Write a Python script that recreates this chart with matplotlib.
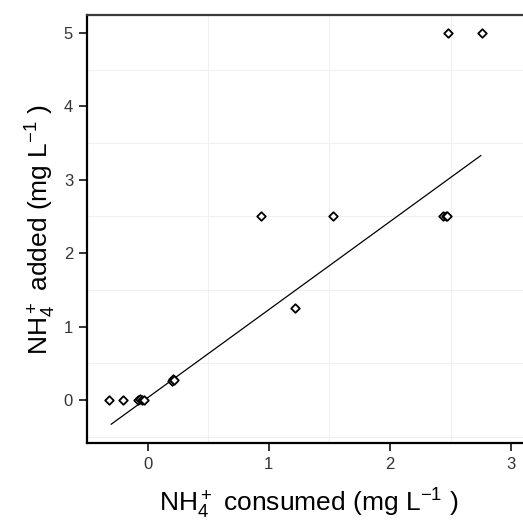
import matplotlib
matplotlib.use("Agg")
import matplotlib.pyplot as plt
import numpy as np

plt.rcParams['font.family'] = ['Liberation Sans', 'DejaVu Sans']
plt.rcParams['mathtext.default'] = 'regular'

# NH4+ consumed vs added (mg/L); repeated entries sit on top of each other
consumed = [-0.32, -0.20, -0.08, -0.06, -0.05, -0.03, 0.20, 0.21, 0.22,
            0.94, 1.22, 1.53, 2.44, 2.46, 2.47, 2.48, 2.76]
added = [0.0, 0.0, 0.0, 0.01, 0.0, 0.0, 0.26, 0.29, 0.27,
         2.5, 1.25, 2.5, 2.5, 2.51, 2.5, 5.0, 5.0]

# linear fit drawn across the data range
fit_intercept = 0.03
fit_slope = 1.20
fit_x = [-0.30, 2.75]

x_ticks = [0, 1, 2, 3]
y_ticks = [0, 1, 2, 3, 4, 5]

fig = plt.figure(figsize=(5.23, 5.23), dpi=100)
ax = fig.add_axes([87 / 523, 80 / 523, 443 / 523, 428 / 523])

xs = np.array(fit_x)
ax.plot(xs, fit_intercept + fit_slope * xs, color='black', lw=0.9, zorder=2)
ax.scatter(consumed, added, marker='D', s=19, facecolors='white',
           edgecolors='black', linewidths=1.3, zorder=3)

ax.set_xlim(-0.469, 3.156)
ax.set_ylim(-0.586, 5.245)
ax.set_xticks(x_ticks)
ax.set_yticks(y_ticks)
ax.set_xticks([-0.5, 0.5, 1.5, 2.5], minor=True)
ax.set_yticks([-0.5, 0.5, 1.5, 2.5, 3.5, 4.5], minor=True)
ax.grid(which='minor', color='#f0f0f0', lw=0.8)
ax.grid(which='major', visible=False)
ax.set_axisbelow(True)
ax.tick_params(which='minor', length=0)
ax.tick_params(which='major', length=5.5, width=1.4, color='#333333',
               labelsize=12, labelcolor='#333333', pad=4.5)

for side in ['left', 'bottom']:
    ax.spines[side].set_linewidth(1.6)
    ax.spines[side].set_color('black')
ax.spines['top'].set_linewidth(1.6)
ax.spines['top'].set_color('#3a3a3a')
ax.spines['right'].set_visible(False)

ax.set_xlabel(r'NH$_4^+$ consumed (mg L$^{-1}$ )', fontsize=19, labelpad=11)
ax.set_ylabel(r'NH$_4^+$ added (mg L$^{-1}$ )', fontsize=19, labelpad=4)

fig.savefig('out.png', dpi=100)
